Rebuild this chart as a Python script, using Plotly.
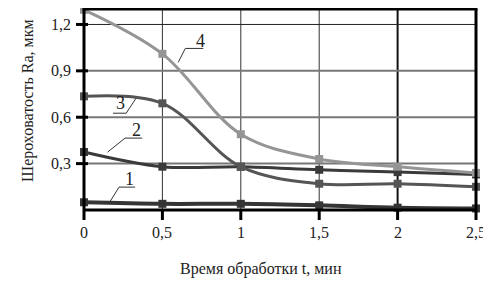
import plotly.graph_objects as go

t = [0, 0.5, 1, 1.5, 2, 2.5]
ra1 = [0.05, 0.04, 0.04, 0.03, 0.015, 0.01]
ra2 = [0.375, 0.28, 0.28, 0.26, 0.245, 0.23]
ra3 = [0.735, 0.69, 0.28, 0.17, 0.17, 0.15]
ra4 = [1.295, 1.01, 0.49, 0.33, 0.28, 0.24]

x_tickvals = [0, 0.5, 1, 1.5, 2, 2.5]
x_ticktext = ["0", "0,5", "1", "1,5", "2", "2,5"]
y_tickvals = [0.3, 0.6, 0.9, 1.2]
y_ticktext = ["0,3", "0,6", "0,9", "1,2"]
x_title = "Время обработки t, мин"
y_title = "Шероховатость Ra, мкм"

series = [
    (ra1, "#353535", 4, "1"),
    (ra2, "#3a3a3a", 3, "2"),
    (ra3, "#555555", 3, "3"),
    (ra4, "#959595", 3, "4"),
]

serif = "Liberation Serif"
XMAX, YMAX = 2.5, 1.3
# page has an 8px body margin; figure sized to fit the window
W, H = 483, 283
ML, MR, MT, MB = 76, 15, 1, 81          # data-box position inside the figure
PW, PH = W - ML - MR, H - MT - MB
dx = XMAX / PW   # data units per pixel (x)
dy = YMAX / PH   # data units per pixel (y)

fig = go.Figure()


def seg(x0, y0, x1, y1, color, width):
    fig.add_trace(go.Scatter(x=[x0, x1], y=[y0, y1], mode="lines",
                             line=dict(color=color, width=width),
                             hoverinfo="skip", showlegend=False))


# grid
for xv in x_tickvals[1:-1]:
    seg(xv, 0, xv, YMAX, "#111" if xv == 2 else "#333", 2 if xv == 2 else 1)
for yv in y_tickvals:
    seg(0, yv, XMAX, yv, "#222" if yv == 1.2 else "#777", 1 if yv == 1.2 else 2)

# data curves
for ys, col, w, name in series:
    fig.add_trace(go.Scatter(
        x=t, y=ys, mode="lines+markers", name=name,
        line=dict(color=col, width=w, shape="spline", smoothing=1.0),
        marker=dict(symbol="square", size=8, color=col),
        showlegend=False,
    ))

# frame
seg(0, 0, XMAX, 0, "black", 3)
seg(-1.5 * dx, YMAX, XMAX + 1.5 * dx, YMAX, "black", 3)
seg(0, 0, 0, YMAX, "black", 3)
seg(XMAX, 0, XMAX, YMAX, "black", 3)
# tick marks
for xv in x_tickvals:
    seg(xv, -10 * dy, xv, 0, "black", 3)
for yv in y_tickvals:
    seg(-8 * dx, yv, 4 * dx, yv, "black", 3)

# tick labels
for xv, txt in zip(x_tickvals, x_ticktext):
    fig.add_annotation(x=xv, y=-22 * dy, text=txt, showarrow=False,
                       xanchor="center", yanchor="middle",
                       font=dict(family=serif, size=16, color="#222"))
for yv, txt in zip(y_tickvals, y_ticktext):
    fig.add_annotation(x=-11 * dx, y=yv, text=txt, showarrow=False,
                       xanchor="right", yanchor="middle",
                       font=dict(family=serif, size=16, color="#222"))

# curve callouts
labels = [
    ("4", (0.742, 1.090), (0.646, 0.761, 1.045), (0.601, 0.955), "left"),
    ("3", (0.230, 0.690), (0.185, 0.269, 0.626), (0.332, 0.723), "right"),
    ("2", (0.332, 0.520), (0.262, 0.371, 0.465), (0.150, 0.374), "left"),
    ("1", (0.288, 0.200), (0.224, 0.326, 0.148), (0.160, 0.045), "left"),
]
for txt, (tx, ty), (ux0, ux1, uy), (lx, ly), side in labels:
    fig.add_annotation(x=tx, y=ty, text=txt, showarrow=False,
                       font=dict(family=serif, size=18, color="#222"))
    sx = ux0 if side == "left" else ux1
    ex = ux1 if side == "left" else ux0
    fig.add_trace(go.Scatter(x=[lx, sx, ex], y=[ly, uy, uy], mode="lines",
                             line=dict(color="#333", width=1),
                             hoverinfo="skip", showlegend=False))

# axis titles
fig.add_annotation(x=177 * dx, y=-59 * dy, text=x_title, showarrow=False,
                   xanchor="center", yanchor="middle",
                   font=dict(family=serif, size=16, color="#222"))
fig.add_annotation(x=-56 * dx, y=109 * dy, text=y_title, showarrow=False,
                   textangle=-90, xanchor="center", yanchor="middle",
                   font=dict(family=serif, size=16, color="#222"))

fig.update_layout(
    template="none",
    width=W, height=H,
    margin=dict(l=0, r=0, t=0, b=0, pad=0),
    paper_bgcolor="white", plot_bgcolor="white",
    font=dict(family=serif, size=16, color="#222"),
    xaxis=dict(range=[-ML * dx, XMAX + MR * dx], showgrid=False, showline=False,
               zeroline=False, showticklabels=False, ticks="", automargin=False),
    yaxis=dict(range=[-MB * dy, YMAX + MT * dy], showgrid=False, showline=False,
               zeroline=False, showticklabels=False, ticks="", automargin=False),
)

fig.write_html("out.html")
